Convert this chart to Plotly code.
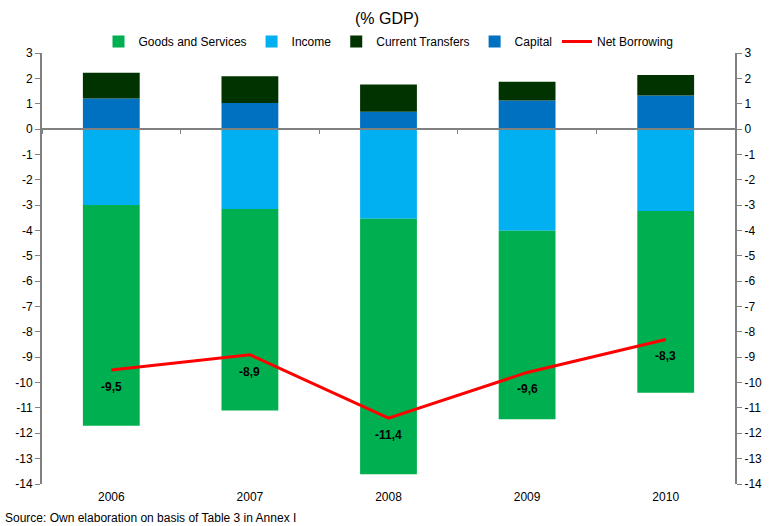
import plotly.graph_objects as go

years = ["2006", "2007", "2008", "2009", "2010"]
goods = [-8.70, -7.95, -10.08, -7.44, -7.17]
income = [-3.00, -3.15, -3.54, -4.01, -3.23]
transfers = [1.01, 1.05, 1.08, 0.74, 0.81]
capital = [1.21, 1.03, 0.68, 1.13, 1.32]
net_borrowing = [-9.5, -8.9, -11.4, -9.6, -8.3]
net_labels = ["-9,5", "-8,9", "-11,4", "-9,6", "-8,3"]
y_ticks = list(range(-14, 4))

FONT = "Liberation Sans, Arial, sans-serif"
AX = "#808080"

fig = go.Figure()
fig.add_trace(go.Bar(x=years, y=income, name="Income", marker_color="#00B0F0",
                     legendrank=2, marker_line_width=0))
fig.add_trace(go.Bar(x=years, y=goods, name="Goods and Services", marker_color="#00B050",
                     legendrank=1, marker_line_width=0))
fig.add_trace(go.Bar(x=years, y=capital, name="Capital", marker_color="#0070C0",
                     legendrank=4, marker_line_width=0))
fig.add_trace(go.Bar(x=years, y=transfers, name="Current Transfers", marker_color="#003300",
                     legendrank=3, marker_line_width=0))
fig.add_trace(go.Scatter(x=years, y=net_borrowing, name="Net Borrowing", mode="lines",
                         line=dict(color="#FF0000", width=3),
                         xaxis="x2", yaxis="y", legendrank=5))
# helper trace for the right-hand axis
fig.add_trace(go.Scatter(x=years, y=[None] * len(years), yaxis="y2", showlegend=False,
                         hoverinfo="skip", mode="lines"))

annotations = [
    dict(x=i, y=v, xref="x", yref="y", text=lab, showarrow=False, yshift=-17,
         font=dict(family=FONT, size=12, color="black", weight="bold"))
    for i, (v, lab) in enumerate(zip(net_borrowing, net_labels))
]
annotations.append(dict(text="Source: Own elaboration on basis of Table 3 in Annex I",
                        xref="paper", yref="paper", x=-39 / 698, y=-(518 - 484) / 431,
                        xanchor="left", yanchor="middle", showarrow=False,
                        font=dict(family=FONT, size=12, color="black")))

y0_frac = 14 / 17

fig.update_layout(
    width=774, height=526,
    barmode="relative",
    bargap=0.59,
    plot_bgcolor="white", paper_bgcolor="white",
    margin=dict(l=42, r=34, t=53, b=42),
    font=dict(family=FONT, size=12, color="black"),
    title=dict(text="(% GDP)", x=0.5, xanchor="center", y=1 - 18 / 526, yanchor="middle",
               font=dict(family=FONT, size=16, color="black")),
    legend=dict(orientation="h", x=0.5, xanchor="center",
                y=1 - 3 / 431, yanchor="bottom",
                font=dict(family=FONT, size=12), traceorder="normal",
                itemwidth=30, tracegroupgap=0),
    xaxis=dict(type="category", categoryarray=years, range=[-0.5, 4.5],
               showline=False, ticks="", showgrid=False, tickfont=dict(size=12),
               ticklabelstandoff=4),
    xaxis2=dict(type="category", categoryarray=years, overlaying="x", matches="x",
                anchor="free", position=y0_frac, showline=True, linecolor=AX, linewidth=2,
                ticks="outside", tickson="boundaries", ticklen=4, tickcolor=AX, tickwidth=1,
                showticklabels=False, showgrid=False),
    yaxis=dict(range=[-14, 3], tickvals=y_ticks, ticktext=[str(v) for v in y_ticks],
               showline=True, linecolor=AX, linewidth=2, ticks="outside", ticklen=5,
               tickcolor=AX, showgrid=False, zeroline=False, tickfont=dict(size=12)),
    yaxis2=dict(range=[-14, 3], tickvals=y_ticks, ticktext=[str(v) for v in y_ticks],
                overlaying="y", side="right", showline=True, linecolor=AX, linewidth=2,
                ticks="outside", ticklen=5, tickcolor=AX, showgrid=False, zeroline=False,
                tickfont=dict(size=12)),
    annotations=annotations,
)

fig.write_html("out.html", config={"displayModeBar": False},
               post_script="document.body.style.margin='0';document.body.style.padding='0';")
